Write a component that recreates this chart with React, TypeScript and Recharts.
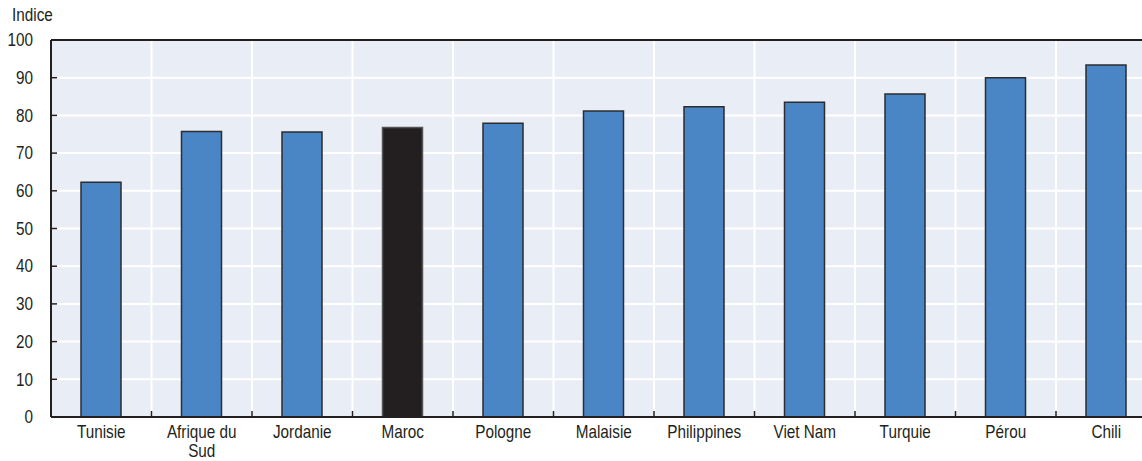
import React from 'react';
import { BarChart, Bar, Cell, XAxis, YAxis, CartesianGrid, ReferenceLine } from 'recharts';

const categories = ['Tunisie', 'Afrique du\nSud', 'Jordanie', 'Maroc', 'Pologne', 'Malaisie', 'Philippines', 'Viet Nam', 'Turquie', 'Pérou', 'Chili'];
const values = [62.3, 75.7, 75.6, 76.8, 77.9, 81.2, 82.3, 83.5, 85.7, 90.0, 93.4];
const highlighted = 'Maroc';
const yTicks = [0, 10, 20, 30, 40, 50, 60, 70, 80, 90, 100];

const data = categories.map((name, i) => ({ name, value: values[i] }));

const FONT = "'Liberation Sans', Arial, sans-serif";
const INK = '#231f20';
const BLUE = '#4a86c6';
const SQUEEZE = 0.85; // narrow the font a bit, original uses a condensed face

const CHART_W = 1165;
const CHART_H = 461;
const MARGIN = { top: 40, right: 8.5, bottom: 0, left: 0 };
const Y_AXIS_W = 51;
const BAND = (CHART_W - MARGIN.left - MARGIN.right - Y_AXIS_W) / categories.length;

const XTick = (props: any) => {
  const { x, y, payload, index } = props;
  const lines = String(payload.value).split('\n');
  const axisY = y - 8;
  return (
    <g>
      {index > 0 && (
        <line x1={x - BAND / 2} x2={x - BAND / 2} y1={axisY} y2={axisY - 6} stroke={INK} strokeWidth={1.5} />
      )}
      <g transform={`translate(${x},0) scale(${SQUEEZE},1)`}>
        <text x={0} y={y + 13} textAnchor="middle" fontSize={18} fontFamily={FONT} fill={INK}>
          {lines.map((l, i) => (
            <tspan key={i} x={0} dy={i === 0 ? 0 : 19}>{l}</tspan>
          ))}
        </text>
      </g>
    </g>
  );
};

const YTick = (props: any) => {
  const { x, y, payload } = props;
  return (
    <g>
      <line x1={x + 8} x2={x + 14} y1={y} y2={y} stroke={INK} strokeWidth={1.5} />
      <g transform={`translate(${x - 10},0) scale(${SQUEEZE},1)`}>
        <text x={0} y={y} dy="0.35em" textAnchor="end" fontSize={18} fontFamily={FONT} fill={INK}>
          {payload.value}
        </text>
      </g>
    </g>
  );
};

export default function App() {
  return (
    <div style={{ position: 'absolute', left: 0, top: 0, width: 1142, height: 461, overflow: 'hidden', background: '#fff' }}>
      <div
        style={{
          position: 'absolute', left: 12, top: 5, fontFamily: FONT, fontSize: 18, color: INK,
          transform: `scaleX(${SQUEEZE})`, transformOrigin: 'left top', lineHeight: '20px',
        }}
      >
        Indice
      </div>
      <BarChart width={CHART_W} height={CHART_H} data={data} margin={MARGIN} barSize={40}>
        <CartesianGrid
          fill="#e9edf5"
          stroke="#ffffff"
          strokeWidth={2}
          verticalCoordinatesGenerator={({ offset }: any) =>
            categories.slice(1).map((_, i) => offset.left + ((i + 1) * offset.width) / categories.length)
          }
        />
        <XAxis
          dataKey="name"
          interval={0}
          height={44}
          tickLine={false}
          axisLine={{ stroke: INK, strokeWidth: 2 }}
          tick={<XTick />}
        />
        <YAxis
          width={Y_AXIS_W}
          domain={[0, 100]}
          ticks={yTicks}
          interval={0}
          tickLine={false}
          axisLine={{ stroke: INK, strokeWidth: 2 }}
          tick={<YTick />}
        />
        <ReferenceLine y={100} stroke={INK} strokeWidth={2} ifOverflow="visible" />
        <Bar dataKey="value" isAnimationActive={false} stroke="#2d2d2d" strokeWidth={1.5}>
          {data.map((d, i) => (
            <Cell key={i} fill={d.name === highlighted ? INK : BLUE} stroke={d.name === highlighted ? '#555' : '#2d2d2d'} />
          ))}
        </Bar>
      </BarChart>
    </div>
  );
}
